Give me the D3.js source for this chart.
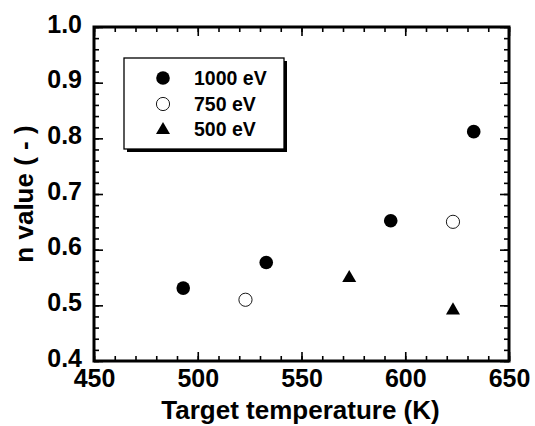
<!DOCTYPE html>
<html>
<head>
<meta charset="utf-8">
<script src="https://cdn.jsdelivr.net/npm/d3@7"></script>
<style>
  body { margin: 0; background: #fff; }
  text { font-family: "Liberation Sans", Arial, Helvetica, sans-serif; font-weight: bold; fill: #000; }
</style>
</head>
<body>
<div id="plot-canvas"></div>
<script>
// data
const series1000 = [[493, 0.531], [533, 0.577], [593, 0.652], [633, 0.812]];
const series750 = [[523, 0.510], [623, 0.650]];
const series500 = [[573, 0.549], [623, 0.491]];
const legendLabels = ["1000 eV", "750 eV", "500 eV"];
const xTicks = [450, 500, 550, 600, 650];
const yTicks = [0.4, 0.5, 0.6, 0.7, 0.8, 0.9, 1.0];
const xMinorTicks = d3.range(450, 651, 10);
const yMinorTicks = d3.range(0, 31).map(d => 0.4 + d * 0.02);

const width = 535, height = 426;
const margin = {top: 27, right: 26, bottom: 65, left: 94};
const w = width - margin.left - margin.right,
    h = height - margin.top - margin.bottom;

const x = d3.scaleLinear().domain([450, 650]).range([0, w]);
const y = d3.scaleLinear().domain([0.4, 1.0]).range([h, 0]);

const svg = d3.select("#plot-canvas").append("svg")
    .attr("width", width)
    .attr("height", height)
    .append("g").attr("transform", "translate(" + margin.left + "," + margin.top + ")");

function styleAxis(g) {
    g.select(".domain").remove();
    g.selectAll(".tick line").attr("stroke", "#000").attr("stroke-width", 1.6);
}

// minor ticks (inward)
svg.append("g").attr("transform", "translate(0," + h + ")")
    .call(d3.axisBottom(x).tickValues(xMinorTicks).tickSize(-5).tickFormat("")).call(styleAxis);
svg.append("g")
    .call(d3.axisTop(x).tickValues(xMinorTicks).tickSize(-5).tickFormat("")).call(styleAxis);
svg.append("g")
    .call(d3.axisLeft(y).tickValues(yMinorTicks).tickSize(-5).tickFormat("")).call(styleAxis);
svg.append("g").attr("transform", "translate(" + w + ",0)")
    .call(d3.axisRight(y).tickValues(yMinorTicks).tickSize(-5).tickFormat("")).call(styleAxis);

// major ticks with labels
const xAxis = svg.append("g").attr("transform", "translate(0," + h + ")")
    .call(d3.axisBottom(x).tickValues(xTicks).tickSize(-9).tickPadding(8).tickFormat(d3.format("d")))
    .call(styleAxis);
xAxis.selectAll("text").attr("font-size", 25).attr("font-family", null);

svg.append("g")
    .call(d3.axisTop(x).tickValues(xTicks).tickSize(-9).tickFormat("")).call(styleAxis);

const yAxis = svg.append("g")
    .call(d3.axisLeft(y).tickValues(yTicks).tickSize(-9).tickPadding(12).tickFormat(d3.format(".1f")))
    .call(styleAxis);
yAxis.selectAll("text").attr("font-size", 25).attr("font-family", null).attr("dy", "0.2em");

svg.append("g").attr("transform", "translate(" + w + ",0)")
    .call(d3.axisRight(y).tickValues(yTicks).tickSize(-9).tickFormat("")).call(styleAxis);

// frame
svg.append("rect")
    .attr("x", 0).attr("y", 0).attr("width", w).attr("height", h)
    .attr("fill", "none").attr("stroke", "#000").attr("stroke-width", 3);

// axis titles
svg.append("text")
    .attr("x", w / 2 - 1)
    .attr("y", h + 58)
    .attr("text-anchor", "middle")
    .attr("font-size", 26)
    .text("Target temperature (K)");

svg.append("text")
    .attr("transform", "rotate(-90)")
    .attr("x", -h / 2 + 0)
    .attr("y", -61)
    .attr("text-anchor", "middle")
    .attr("font-size", 26)
    .text("n value ( - )");

// data points
svg.selectAll(".p1000").data(series1000).enter().append("circle")
    .attr("class", "p1000")
    .attr("cx", d => x(d[0])).attr("cy", d => y(d[1]))
    .attr("r", 6.8).attr("fill", "#000");

svg.selectAll(".p750").data(series750).enter().append("circle")
    .attr("class", "p750")
    .attr("cx", d => x(d[0])).attr("cy", d => y(d[1]))
    .attr("r", 6.6).attr("fill", "#fff").attr("stroke", "#000").attr("stroke-width", 0.9);

const tri = d3.symbol().type(d3.symbolTriangle).size(85);
svg.selectAll(".p500").data(series500).enter().append("path")
    .attr("class", "p500")
    .attr("transform", d => "translate(" + x(d[0]) + "," + y(d[1]) + ")")
    .attr("d", tri).attr("fill", "#000");

// legend
const lg = svg.append("g").attr("transform", "translate(30,31)");
lg.append("rect").attr("x", 3).attr("y", 3).attr("width", 160).attr("height", 91).attr("fill", "#000");
lg.append("rect").attr("x", 0).attr("y", 0).attr("width", 160).attr("height", 91)
    .attr("fill", "#fff").attr("stroke", "#000").attr("stroke-width", 1.3);

const rows = [20, 46, 71];
lg.append("circle").attr("cx", 39).attr("cy", rows[0]).attr("r", 6.8).attr("fill", "#000");
lg.append("circle").attr("cx", 39).attr("cy", rows[1]).attr("r", 6.6)
    .attr("fill", "#fff").attr("stroke", "#000").attr("stroke-width", 0.9);
lg.append("path").attr("transform", "translate(39," + (rows[2] + 1) + ")").attr("d", tri).attr("fill", "#000");

lg.selectAll(".lt").data(legendLabels).enter().append("text")
    .attr("class", "lt")
    .attr("x", 70)
    .attr("y", (d, i) => rows[i])
    .attr("dy", "0.36em")
    .attr("font-size", 19.5)
    .text(d => d);
</script>
</body>
</html>
